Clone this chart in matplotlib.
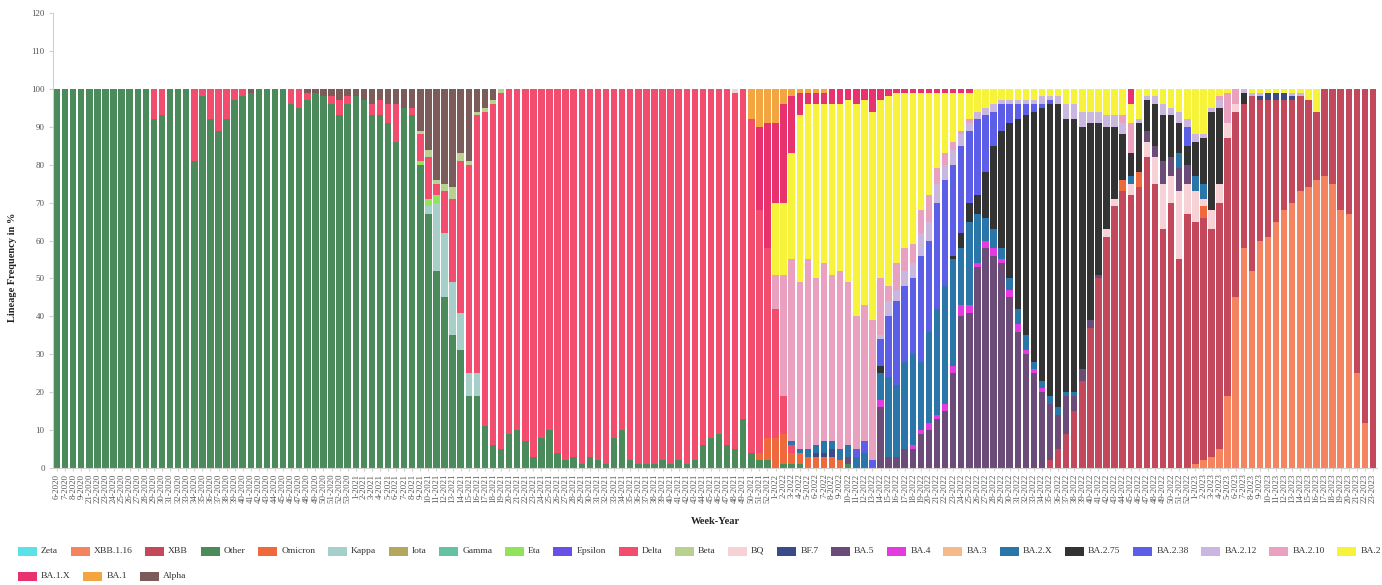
import matplotlib
matplotlib.use('Agg')
import matplotlib.pyplot as plt
from matplotlib.patches import Rectangle
import numpy as np

plt.rcParams['font.family'] = ['Liberation Serif', 'DejaVu Serif']

N = 164
# ---- week labels ----
weeks_2020 = [6, 7, 8, 9] + list(range(21, 54))
weeks_2021 = list(range(1, 53))
weeks_2022 = list(range(1, 53))
weeks_2023 = list(range(1, 24))
week_labels = ([f"{w}-2020" for w in weeks_2020] + [f"{w}-2021" for w in weeks_2021] +
               [f"{w}-2022" for w in weeks_2022] + [f"{w}-2023" for w in weeks_2023])

# ---- series values (percent per week) ----
zeta = [0] * N
xbb116 = [0] * 141 + [1, 2, 3, 5, 19, 45, 58, 52, 60,
                      61, 65, 68, 70, 73, 74, 76, 77, 75, 68,
                      67, 25, 12, 0]
xbb = [0] * 123 + [2, 5, 9, 15, 23, 37, 50,
                   61, 69, 73, 72, 74, 82, 75, 63, 70, 55,
                   67, 64, 64, 60, 65, 68, 49, 38, 46, 37,
                   36, 32, 29, 27, 25, 23, 18, 23, 25, 32,
                   33, 75, 88, 100]
other = [100] * 12 + [92, 93, 100, 100, 100, 81, 98, 92,
                      89, 92, 97, 98, 99, 100, 100, 100, 100, 96,
                      95, 97, 99, 98, 96, 93, 96, 98, 97, 93,
                      93, 91, 86, 95, 93, 80, 67, 52, 45, 35,
                      31, 19, 19, 11, 6, 5, 9, 10, 7, 3,
                      8, 10, 4, 2, 3, 1, 3, 2, 1, 8,
                      10, 2, 1, 1, 1, 2, 1, 2, 1, 2,
                      6, 8, 9, 6, 5, 13, 4, 2, 2, 0,
                      1, 1, 1, 0, 0, 0, 0, 0, 1]
omicron = [0] * 87 + [2, 6, 8,
                      8, 3, 3, 3, 3, 3, 3, 2, 0, 0,
                      0, 0, 0, 0, 0, 0, 0, 0, 0, 0,
                      0, 0, 0, 0, 0, 0, 0, 0, 0, 0,
                      0, 0, 0, 0, 0, 0, 0, 0, 0, 0,
                      0, 0, 3, 0, 4, 0, 0, 0, 0, 0,
                      0, 0, 3]
kappa = [0] * 46 + [2, 18, 17, 14, 10, 6, 6]
iota = [0] * N
gamma = [0] * N
eta = [0] * 45 + [1, 2, 2]
epsilon = [0] * N
delta = [0] * 12 + [8, 7, 0, 0, 0, 19, 2, 8,
                    11, 8, 3, 2, 0, 0, 0, 0, 0, 4,
                    5, 2, 0, 0, 2, 4, 2, 0, 0, 3,
                    4, 5, 10, 0, 2, 7, 11, 3, 11, 22,
                    40, 55, 68, 83, 90, 94, 91, 90, 93, 97,
                    92, 90, 96, 98, 97, 99, 97, 98, 99, 92,
                    90, 98, 99, 99, 99, 98, 99, 98, 99, 98,
                    94, 92, 91, 94, 94, 87, 88, 64, 50, 34,
                    10, 2]
beta = [0] * 45 + [1, 2, 1, 2, 3, 2, 1, 1, 1, 1, 1]
bq = [0] * 84 + [1] + [0] * 45 + [2, 2, 0, 3, 0, 4, 7, 12, 7, 18, 8, 8, 2, 5, 5, 4, 2]
bf7 = [0] * 94 + [1, 1, 2] + [0] * 52 + [1, 2, 2, 2, 1]
ba5 = [0] * 98 + [2, 0,
                  0, 0, 16, 3, 3, 5, 5, 9, 10, 13,
                  15, 25, 40, 41, 53, 58, 56, 54, 45, 36,
                  30, 25, 20, 15, 9, 10, 4, 3, 2, 1,
                  0, 0, 0, 0, 0, 3, 3, 6, 5, 6,
                  5]
ba4 = [0] * 102 + [2, 0, 0, 0, 1, 1, 2, 1,
                   2, 2, 3, 2, 1, 2, 2, 1, 2, 2,
                   1, 1, 1]
ba3 = [0] * N
ba2_x = [0] * 91 + [1, 1, 2, 2, 3, 2, 3, 3, 3,
                    4, 0, 7, 21, 19, 23, 24, 18, 24, 28,
                    31, 28, 15, 22, 13, 6, 5, 3, 3, 4,
                    4, 2, 2, 2, 2, 1, 1, 0, 0, 0,
                    0, 0, 0, 2, 0, 0, 0, 0, 0, 4,
                    0, 4, 4]
ba2_75 = [0] * 102 + [2, 0, 0, 0, 0, 0, 0, 0,
                      0, 1, 4, 5, 5, 12, 22, 31, 41, 50,
                      58, 66, 72, 77, 80, 72, 72, 64, 52, 40,
                      27, 19, 12, 6, 13, 8, 11, 12, 11, 8,
                      5, 9, 12, 26, 20, 0, 0, 3]
ba2_38 = [0] * 99 + [2,
                     3, 2, 7, 16, 22, 20, 20, 28, 24, 28,
                     28, 24, 23, 19, 20, 15, 9, 7, 5, 4,
                     3, 2, 1, 1, 0, 0, 0, 0, 0, 0,
                     0, 0, 0, 0, 0, 0, 0, 0, 0, 0,
                     5]
ba2_12 = [0] * 102 + [1, 4, 3, 4, 4, 6, 5, 5,
                      4, 4, 3, 2, 2, 2, 2, 1, 1, 1,
                      1, 1, 2, 1, 2, 4, 4, 4, 3, 3,
                      3, 3, 3, 0, 1, 1, 2, 3, 2, 3,
                      2, 2, 1, 1, 2, 0, 0, 1, 1, 1,
                      0, 0, 0, 1, 1]
ba2_10 = [0] * 89 + [9,
                     32, 48, 44, 50, 44, 47, 44, 47, 43, 35,
                     36, 37, 15, 4, 7, 6, 5, 6, 7, 4,
                     3, 2, 1, 1, 0, 0, 0, 0, 0, 0,
                     0, 0, 0, 0, 0, 0, 0, 0, 0, 0,
                     0, 0, 2, 8, 0, 0, 0, 0, 0, 0,
                     0, 0, 0, 0, 1, 8, 4]
ba2 = [0] * 89 + [19,
                  19, 28, 44, 41, 46, 42, 45, 44, 48, 56,
                  54, 55, 47, 50, 45, 41, 40, 31, 27, 20,
                  16, 13, 10, 7, 6, 5, 4, 3, 3, 3,
                  3, 3, 2, 2, 2, 4, 4, 6, 6, 6,
                  7, 7, 7, 5, 8, 2, 2, 4, 5, 6,
                  8, 12, 12, 5, 2, 1, 0, 0, 1, 1,
                  1, 1, 1, 1, 1, 3, 6]
ba1x = [0] * 87 + [22, 33, 21,
                   26, 15, 6, 3, 3, 3, 4, 4, 3, 4,
                   3, 6, 3, 2, 1, 1, 1, 1, 1, 1,
                   1, 1, 1, 1, 0, 0, 0, 0, 0, 0,
                   0, 0, 0, 0, 0, 0, 0, 0, 0, 0,
                   0, 0, 0, 4]
ba1 = [0] * 86 + [8, 10, 9, 9, 4, 2, 1, 1, 1, 1]
alpha = [0] * 24 + [1, 0, 0, 0, 0, 0,
                    0, 1, 1, 2, 2, 3, 2, 2, 3, 4,
                    3, 4, 4, 5, 5, 11, 16, 24, 25, 26,
                    17, 19, 6, 5, 3]

# bottom -> top order (also legend order)
names = ['Zeta', 'XBB.1.16', 'XBB', 'Other', 'Omicron', 'Kappa', 'Iota', 'Gamma', 'Eta',
         'Epsilon', 'Delta', 'Beta', 'BQ', 'BF.7', 'BA.5', 'BA.4', 'BA.3', 'BA.2.X',
         'BA.2.75', 'BA.2.38', 'BA.2.12', 'BA.2.10', 'BA.2', 'BA.1.X', 'BA.1', 'Alpha']
data = [zeta, xbb116, xbb, other, omicron, kappa, iota, gamma, eta, epsilon, delta, beta,
        bq, bf7, ba5, ba4, ba3, ba2_x, ba2_75, ba2_38, ba2_12, ba2_10, ba2, ba1x, ba1, alpha]
colors = ['#5ce1e6', '#f4845f', '#c4485c', '#4b8a5a', '#ee6a3c', '#a7cfc9', '#b4a85c',
          '#63c2a0', '#90e35b', '#6a4fe6', '#f24d6f', '#b9d08f', '#f6d2d6', '#3b4a88',
          '#6b4b78', '#e33be0', '#f6b98a', '#2b76a8', '#333333', '#5c5ee8', '#c9b7e0',
          '#eaa0bf', '#f7f23a', '#e8326e', '#f2a541', '#7c5b5b']

W, H = 1382, 585
fig = plt.figure(figsize=(W / 100, H / 100), dpi=100)
ax = fig.add_axes([53 / W, 1 - 468 / H, (1377 - 53) / W, (468 - 13) / H])

x = np.arange(N)
bottom = np.zeros(N)
for name, vals, col in zip(names, data, colors):
    v = np.array(vals + [0] * (N - len(vals)), dtype=float)[:N]
    ax.bar(x, v, bottom=bottom, width=0.8, color=col, linewidth=0)
    bottom += v

ax.set_xlim(-0.5, N - 0.5)
ax.set_ylim(0, 120)
ax.set_yticks(range(0, 121, 10))
ax.set_xticks(x)
ax.set_xticklabels(week_labels, rotation=90, fontsize=6.3, color='#555555')
for s in ['top', 'right']:
    ax.spines[s].set_visible(False)
for s in ['left', 'bottom']:
    ax.spines[s].set_color('#d0d0d0')
    ax.spines[s].set_linewidth(0.8)
ax.tick_params(axis='y', length=3, color='#d0d0d0', labelsize=6.5, labelcolor='#555555', pad=3)
ax.tick_params(axis='x', length=2, color='#d0d0d0', pad=2)
ax.set_ylabel('Lineage Frequency in %', fontweight='bold', fontsize=7.5, color='#222222')
ax.yaxis.set_label_coords(-0.027, 0.44)
fig.text(715 / W, 1 - 522 / H, 'Week-Year', ha='center', va='center',
         fontweight='bold', fontsize=7.5, color='#222222')

# ---- legend (two rows) ----
renderer = fig.canvas.get_renderer()
color_of = dict(zip(names, colors))


def draw_row(items, y_px, x0, gap):
    xp = x0
    for nm in items:
        fig.add_artist(Rectangle((xp / W, 1 - (y_px + 4.5) / H), 19 / W, 9 / H,
                                 transform=fig.transFigure, facecolor=color_of[nm],
                                 edgecolor='none'))
        t = fig.text((xp + 23) / W, 1 - y_px / H, nm, fontsize=6.8, va='center', ha='left',
                     color='#333333')
        bb = t.get_window_extent(renderer)
        xp = bb.x1 + gap


draw_row(names[:23], 551, 18, 12.7)
draw_row(names[23:], 576, 18, 12.7)

fig.savefig('out.png', dpi=100)
